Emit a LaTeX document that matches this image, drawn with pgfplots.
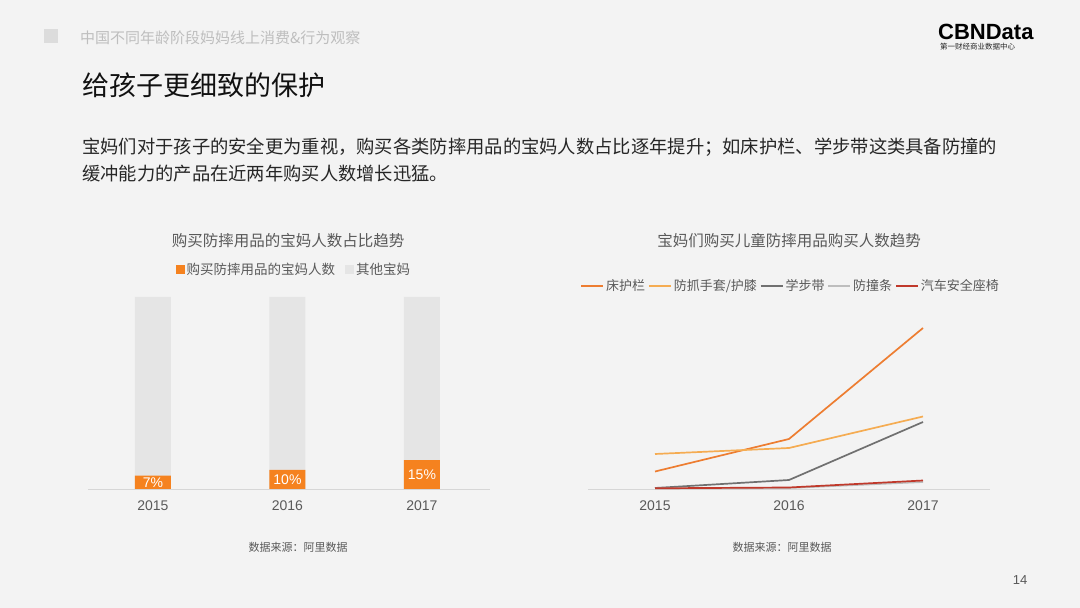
\documentclass[border=0pt]{standalone}
\usepackage{fontspec}
\setmainfont{Noto Sans CJK SC}
\newfontfamily\arial{Liberation Sans}
\usepackage{pgfplots}
\pgfplotsset{compat=1.18}
\definecolor{bg}{HTML}{F3F3F3}
\definecolor{hdrsq}{HTML}{DCDCDC}
\definecolor{hdrgray}{HTML}{BEBEBE}
\definecolor{titleblack}{HTML}{111111}
\definecolor{para}{HTML}{262626}
\definecolor{txtgray}{HTML}{595959}
\definecolor{axgray}{HTML}{D6D6D6}
\definecolor{bargray}{HTML}{E5E5E5}
\definecolor{barorange}{HTML}{F5821F}
\definecolor{c1}{HTML}{ED7D31}
\definecolor{c2}{HTML}{F5AC52}
\definecolor{c3}{HTML}{707070}
\definecolor{c4}{HTML}{BDBDBD}
\definecolor{c5}{HTML}{C0392B}
\begin{document}
\begin{tikzpicture}
\fill[bg] (0pt,0pt) rectangle (1080pt,608pt);
% header
\fill[hdrsq] (44pt,565pt) rectangle (58pt,579pt);
\node[anchor=west, inner sep=0, text=hdrgray, font=\fontsize{15}{18}\selectfont] at (80pt,570pt) {中国不同年龄阶段妈妈线上消费\&行为观察};
\node[anchor=west, inner sep=0, text=titleblack, font=\fontsize{27}{32}\selectfont] at (82pt,523pt) {给孩子更细致的保护};
\node[anchor=west, inner sep=0, text=para, font=\fontsize{18.3}{22}\selectfont] at (82pt,461pt) {宝妈们对于孩子的安全更为重视，购买各类防摔用品的宝妈人数占比逐年提升；如床护栏、学步带这类具备防撞的};
\node[anchor=west, inner sep=0, text=para, font=\fontsize{18.3}{22}\selectfont] at (82pt,434pt) {缓冲能力的产品在近两年购买人数增长迅猛。};
% logo
\node[anchor=west, inner sep=0, text=black, font=\arial\bfseries\fontsize{22}{24}\selectfont] at (938pt,576pt) {CBNData};
\node[anchor=west, inner sep=0, text=para, font=\fontsize{7.5}{9}\selectfont] at (940pt,561pt) {第一财经商业数据中心};
% chart titles
\node[inner sep=0, text=txtgray, font=\fontsize{15.5}{18}\selectfont] at (288pt,367pt) {购买防摔用品的宝妈人数占比趋势};
\node[inner sep=0, text=txtgray, font=\fontsize{15.5}{18}\selectfont] at (789pt,367pt) {宝妈们购买儿童防摔用品购买人数趋势};
% sources
\node[inner sep=0, text=txtgray, font=\fontsize{11}{13}\selectfont] at (298pt,61pt) {数据来源：阿里数据};
\node[inner sep=0, text=txtgray, font=\fontsize{11}{13}\selectfont] at (782pt,61pt) {数据来源：阿里数据};
\node[inner sep=0, text=txtgray, font=\arial\fontsize{13}{15}\selectfont] at (1020pt,28pt) {14};

% left bar chart
\begin{axis}[at={(88pt,119pt)}, anchor=south west, scale only axis,
  width=402pt, height=192pt,
  xmin=-0.483, xmax=2.506, ymin=0, ymax=100,
  axis y line=none, axis x line=bottom,
  axis line style={draw=axgray, -, line width=0.8pt},
  xtick={0,1,2}, xticklabels={2015,2016,2017},
  major tick length=0pt,
  xticklabel style={text=txtgray, font=\arial\fontsize{14}{16}\selectfont, yshift=-8pt},
  clip=false,
  legend style={at={(0.21,1.141)}, anchor=west, draw=none, fill=none,
    font=\fontsize{13.5}{16}\selectfont, text=txtgray,
    /tikz/every even column/.append style={column sep=8pt},
    /tikz/every odd column/.append style={column sep=0pt}},
  legend columns=2,
  legend image code/.code={\fill[#1] (0pt,-4.5pt) rectangle (9pt,4.5pt);},
]
\addlegendimage{fill=barorange, draw=none}
\addlegendentry{购买防摔用品的宝妈人数}
\addlegendimage{fill=bargray, draw=none}
\addlegendentry{其他宝妈}
\addplot[forget plot, ybar, bar width=36pt, bar shift=0pt, fill=bargray, draw=none]
  coordinates {(0,100) (1,100) (2,100)};
\addplot[forget plot, ybar, bar width=36pt, bar shift=0pt, fill=barorange, draw=none]
  coordinates {(0,7) (1,10) (2,15)};
\addplot[forget plot, draw=none, mark=none, nodes near coords, point meta=explicit symbolic,
  every node near coord/.style={anchor=center, text=white, font=\arial\fontsize{14}{16}\selectfont}]
  coordinates {(0,3.5)[7\%] (1,5)[10\%] (2,7.5)[15\%]};
\end{axis}

% right line chart
\begin{axis}[at={(588pt,119pt)}, anchor=south west, scale only axis,
  width=402pt, height=200pt,
  xmin=-0.5, xmax=2.5, ymin=0, ymax=200,
  axis y line=none, axis x line=bottom,
  axis line style={draw=axgray, -, line width=0.8pt},
  xtick={0,1,2}, xticklabels={2015,2016,2017},
  major tick length=0pt,
  xticklabel style={text=txtgray, font=\arial\fontsize{14}{16}\selectfont, yshift=-8pt},
  clip=false,
  legend style={at={(-0.027,1.015)}, anchor=west, draw=none, fill=none,
    font=\fontsize{13}{15}\selectfont, text=txtgray,
    /tikz/every even column/.append style={column sep=1pt}},
  legend columns=5,
  legend image code/.code={\draw[#1] (0pt,0pt) -- (22pt,0pt);},
]
\addplot[c1, line width=1.7pt] coordinates {(0,17.5) (1,50) (2,161)};
\addlegendentry{床护栏}
\addplot[c2, line width=1.7pt] coordinates {(0,35) (1,41) (2,72.5)};
\addlegendentry{防抓手套/护膝}
\addplot[c3, line width=1.7pt] coordinates {(0,1) (1,9) (2,67)};
\addlegendentry{学步带}
\addplot[c4, line width=1.7pt] coordinates {(0,0.5) (1,1) (2,7)};
\addlegendentry{防撞条}
\addplot[c5, line width=1.7pt] coordinates {(0,0.7) (1,1.5) (2,8.5)};
\addlegendentry{汽车安全座椅}
\end{axis}
\end{tikzpicture}
\end{document}
